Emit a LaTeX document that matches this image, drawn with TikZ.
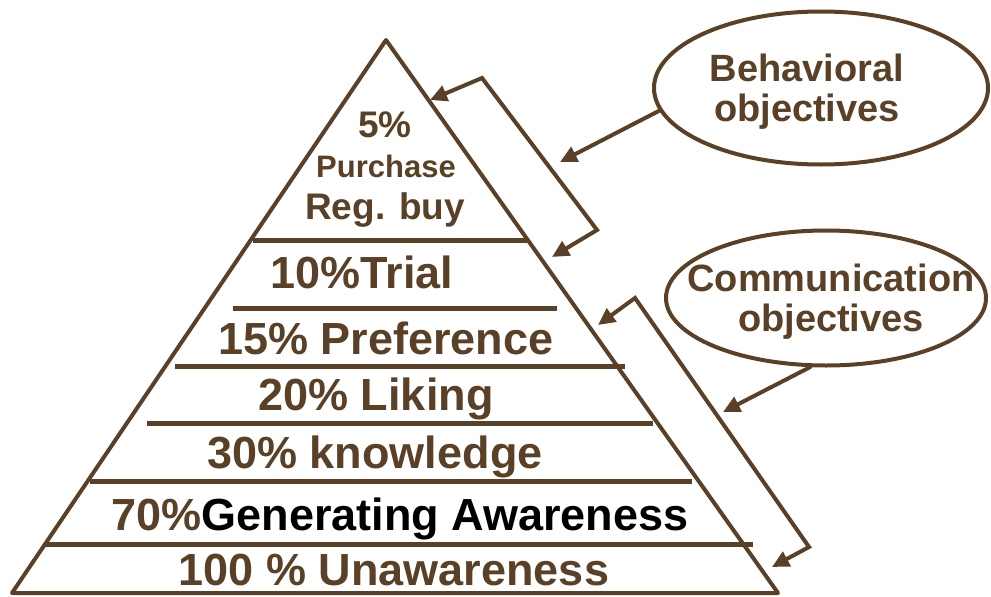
\documentclass[tikz,border=0pt]{standalone}
\usepackage{fontspec}
\setmainfont{Liberation Sans}
\usetikzlibrary{arrows.meta}
\usetikzlibrary{shapes.geometric}
\definecolor{brn}{RGB}{89,64,38}
\newcommand{\pyrfont}{\fontsize{45}{54}\selectfont\bfseries}
\newcommand{\topfont}{\fontsize{37}{44}\selectfont\bfseries}
\newcommand{\smfont}{\fontsize{31}{36}\selectfont\bfseries}
\newcommand{\bubfont}{\fontsize{38}{40}\selectfont\bfseries}
\tikzstyle{every node}=[inner sep=0pt,text=brn]

\begin{document}
\begin{tikzpicture}[line cap=round,line join=round,>={Triangle[length=17pt,width=16pt]},x=1pt,y=-1pt]
\useasboundingbox (0,0) rectangle (991,597);
% pyramid and its layers
\draw[line width=4pt,color=brn] (386,40) -- (778,593) -- (12,593) -- cycle;
\foreach \y/\a/\b in {240/253/527,308/233/557,366/175/625,423/147/653,481/90/692,544/45/753}
  \draw[line width=5pt,color=brn,line cap=butt] (\a,\y) -- (\b,\y);
\node[anchor=base,font=\topfont] (pct5) at (385,137) {5\%};
\node[anchor=base,font=\smfont] (purch) at (386,177) {Purchase};
\node[anchor=base,font=\topfont] (regbuy) at (385,219) {Reg. buy};
\node[anchor=base,font=\pyrfont] (trial) at (362,288) {10\%Trial};
\node[anchor=base,font=\pyrfont] (pref) at (386,354) {15\% Preference};
\node[anchor=base,font=\pyrfont] (liking) at (376,410) {20\% Liking};
\node[anchor=base,font=\pyrfont] (knowl) at (375,468) {30\% knowledge};
\node[anchor=base,font=\pyrfont] (aware) at (400,530) {70\%\textcolor{black}{Generating Awareness}};
\node[anchor=base,font=\pyrfont] (unaware) at (394,585) {100 \% Unawareness};
% objective bubbles
\node[ellipse,draw=brn,line width=4pt,minimum width=334pt,minimum height=153pt] (bhv) at (821,88) {};
\node[font=\bubfont,align=center] (bhvtxt) at (807,92) {Behavioral\\objectives};
\node[ellipse,draw=brn,line width=4pt,minimum width=320pt,minimum height=135pt] (com) at (826,298) {};
\node[font=\bubfont,align=center] (comtxt) at (831,302) {Communication\\objectives};
% arrow ends on the pyramid side
\coordinate (bhvtip) at (560,162);
\coordinate (comtip) at (723,412);
\coordinate (bk1a) at (430,100);
\coordinate (bk1b) at (552,257);
\coordinate (bk2a) at (598,325);
\coordinate (bk2b) at (772,567);
\draw[->,line width=4pt,color=brn] (bhv.188) -- (bhvtip);
\draw[->,line width=4pt,color=brn] (com.257) -- (comtip);
\draw[<->,line width=4pt,color=brn,line join=miter] (bk1a) -- (482,78) -- (597,230) -- (bk1b);
\draw[<->,line width=4pt,color=brn,line join=miter] (bk2a) -- (635,298) -- (809,547) -- (bk2b);
\end{tikzpicture}
\end{document}
